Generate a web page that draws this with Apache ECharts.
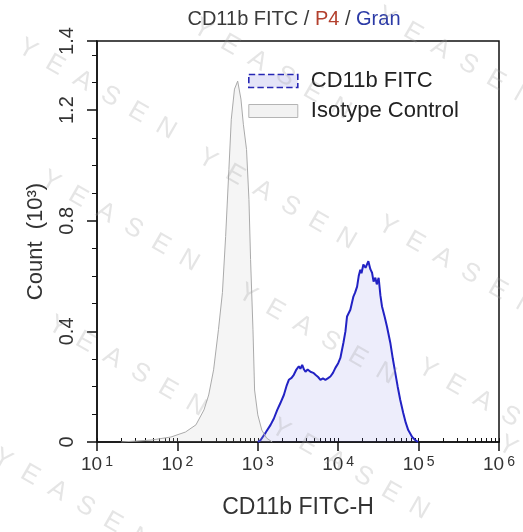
<!DOCTYPE html>
<html><head><meta charset="utf-8">
<script src="https://cdn.jsdelivr.net/npm/echarts@6/dist/echarts.min.js"></script>
<style>html,body{margin:0;padding:0;background:#fff}#c{width:523px;height:532px}</style>
</head><body><div id="c"></div>
<script>
// ---- data (fluorescence intensity, count in thousands) ----
const seriesNames = ['CD11b FITC', 'Isotype Control'];
const cd11bX = [1000,1084,1259,1442,1585,1746,1905,2109,2291,2432,2630,2805,3020,3236,3388,3565,3758,3917,4169,4519,4898,5212,5623,6012,6457,6934,7413,7998,8610,9226,10000,10641,11614,12303,12882,14158,15453,16218,17179,17989,18836,19498,20559,21878,23714,25119,26363,27542,28973,30200,31842,33497,35075,38019,40458,44463,47863,51286,54954,59156,64417,69183,74302,83176,90782,98855];
const cd11bY = [0,0.007,0.035,0.062,0.085,0.116,0.14,0.17,0.205,0.225,0.232,0.243,0.262,0.274,0.265,0.279,0.262,0.254,0.262,0.254,0.25,0.243,0.235,0.225,0.23,0.225,0.23,0.237,0.25,0.268,0.285,0.304,0.359,0.40,0.454,0.478,0.526,0.54,0.562,0.60,0.623,0.61,0.642,0.63,0.654,0.625,0.612,0.58,0.594,0.57,0.594,0.53,0.49,0.45,0.417,0.359,0.30,0.25,0.20,0.152,0.105,0.07,0.043,0.018,0.007,0];
const isoX = [20,47,83,126,170,214,245,282,324,363,398,437,468,513,562,617,661,724,776,813,871,912,1000,1122,1288,1514];
const isoY = [0,0.007,0.018,0.036,0.062,0.116,0.17,0.261,0.406,0.54,0.743,0.986,1.167,1.276,1.305,1.24,1.149,1.058,0.877,0.66,0.406,0.188,0.098,0.043,0.014,0];
const xTickExponents = [1,2,3,4,5,6];
const yTickValues = [0,0.4,0.8,1.2];
const yTopLabel = '1.4';

// ---- styles / layout ----
const SANS = '"Liberation Sans",Arial,sans-serif';
const watermarkPos = [[20,45],[195,25],[378,13],[43,177],[200,155],[380,222],[50,322],[240,290],[420,365],[-5,455],[273,425],[500,442]];

const xMin = Math.pow(10, xTickExponents[0]);
const xMax = Math.pow(10, xTickExponents[xTickExponents.length-1]);
const minorVals = [];
xTickExponents.slice(0,-1).forEach(e => { for (let k=2;k<=9;k++) minorVals.push(k*Math.pow(10,e)); });
const majorVals = xTickExponents.map(e => Math.pow(10,e));

const chart = echarts.init(document.getElementById('c'), null, {renderer:'canvas'});
chart.setOption({
  animation: false,
  backgroundColor: '#fff',
  title: {
    text: '{a|CD11b FITC / }{b|P4}{a| / }{c|Gran}',
    left: 289, top: 4, textAlign: 'center',
    textStyle: { fontWeight: 'normal', rich: {
      a: {fontSize: 20, fontFamily: SANS, fontWeight: 'normal', color: '#3a3a3a'},
      b: {fontSize: 20, fontFamily: SANS, fontWeight: 'normal', color: '#b3402e'},
      c: {fontSize: 20, fontFamily: SANS, fontWeight: 'normal', color: '#2b3aa6'}
    }}
  },
  legend: {
    orient: 'vertical', left: 243, top: 65,
    itemWidth: 49, itemHeight: 13, itemGap: 8,
    textStyle: {fontSize: 22, fontFamily: SANS, color: '#222', padding: [0,0,0,8]},
    data: [
      {name: seriesNames[0], icon: 'rect', itemStyle: {color: '#e4e4f8', borderColor: '#2626b4', borderWidth: 1.6, borderType: 'dashed'}},
      {name: seriesNames[1], icon: 'rect', itemStyle: {color: '#f2f2f2', borderColor: '#b4b4b4', borderWidth: 1}}
    ]
  },
  grid: {left: 97, right: 24, top: 41, bottom: 90, show: true, borderColor: '#111', borderWidth: 1.5, backgroundColor: 'transparent'},
  xAxis: [{
    type: 'log', logBase: 10, min: xMin, max: xMax,
    name: 'CD11b FITC-H', nameLocation: 'middle', nameGap: 54,
    nameTextStyle: {fontSize: 23, fontFamily: SANS, color: '#333'},
    axisLine: {show: true, lineStyle: {color: '#111', width: 1.5}},
    axisTick: {show: true, length: 9, lineStyle: {color: '#111', width: 1.5}},
    splitLine: {show: false},
    axisLabel: {
      margin: 13,
      formatter: v => '{b|10}{s|' + Math.round(Math.log10(v)) + '}',
      rich: {
        b: {fontSize: 19, fontFamily: SANS, color: '#333'},
        s: {fontSize: 14, fontFamily: SANS, color: '#333', verticalAlign: 'top', padding: [0,0,0,3]}
      }
    }
  }, {
    type: 'log', logBase: 10, min: xMin, max: xMax, position: 'bottom',
    axisLine: {show: false}, axisLabel: {show: false}, splitLine: {show: false},
    axisTick: {show: true, inside: true, length: 4, customValues: minorVals.concat(majorVals), lineStyle: {color: '#111', width: 1}}
  }],
  yAxis: {
    type: 'value', min: 0, max: 1.45, interval: 0.4,
    name: 'Count  (10³)', nameLocation: 'middle', nameGap: 50, nameRotate: 90,
    nameTextStyle: {fontSize: 22, fontFamily: SANS, color: '#333'},
    axisLine: {show: true, lineStyle: {color: '#111', width: 1.5}},
    axisTick: {show: true, length: 10, lineStyle: {color: '#111', width: 1.5}},
    minorTick: {show: true, splitNumber: 4, length: 5, lineStyle: {color: '#111', width: 1}},
    splitLine: {show: false},
    axisLabel: {
      rotate: 90, margin: 20, fontSize: 20, fontFamily: SANS, color: '#333',
      formatter: v => (yTickValues.indexOf(v) >= 0 ? String(v) : (v >= 1.4 ? yTopLabel : ''))
    }
  },
  graphic: watermarkPos.map(p => ({
    type: 'text', x: p[0], y: p[1], rotation: -0.52, silent: true, z: 100,
    style: {text: 'Y  E  A  S  E  N', font: '26px ' + SANS, fill: 'rgba(160,160,160,0.27)', textVerticalAlign: 'middle'}
  })),
  series: [{
    name: seriesNames[0], type: 'line', showSymbol: false, symbol: 'none',
    data: cd11bX.map((x,i) => [x, cd11bY[i]]),
    itemStyle: {color: '#2626b4'},
    lineStyle: {color: '#2222c4', width: 2},
    areaStyle: {color: 'rgba(100,100,220,0.17)'},
    z: 2
  }, {
    name: seriesNames[1], type: 'line', showSymbol: false, symbol: 'none',
    data: isoX.map((x,i) => [x, isoY[i]]),
    itemStyle: {color: '#b4b4b4'},
    lineStyle: {color: '#aaaaaa', width: 1},
    areaStyle: {color: 'rgba(190,190,190,0.22)'},
    z: 3
  }]
});
</script></body></html>
